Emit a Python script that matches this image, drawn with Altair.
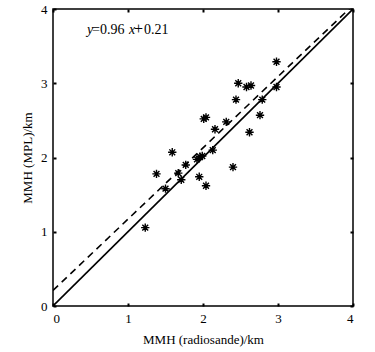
import altair as alt
import pandas as pd

# Data
x_vals = [1.23, 1.38, 1.50, 1.59, 1.67, 1.71, 1.77, 1.92, 1.95, 1.99, 1.96, 2.04,
          2.01, 2.04, 2.13, 2.16, 2.31, 2.40, 2.44, 2.47, 2.58, 2.64, 2.62, 2.76,
          2.79, 2.98, 2.98]
y_vals = [1.055, 1.78, 1.58, 2.07, 1.79, 1.70, 1.90, 1.975, 1.74, 2.02, 2.01, 1.62,
          2.52, 2.54, 2.10, 2.38, 2.48, 1.87, 2.78, 3.00, 2.95, 2.97, 2.34, 2.57,
          2.78, 3.29, 2.95]
tick_values = [0, 1, 2, 3, 4]
line_x = [0, 4]
fit_slope = 0.96
fit_intercept = 0.21

FONT = "Liberation Serif"
W, H = 300, 297

pts = pd.DataFrame({"x": x_vals, "y": y_vals})
ident = pd.DataFrame({"x": line_x, "y": line_x})
fit = pd.DataFrame({"x": line_x, "y": [fit_slope * v + fit_intercept for v in line_x]})

xs = alt.Scale(domain=[0, 4], nice=False, zero=False)
ys = alt.Scale(domain=[0, 4], nice=False, zero=False)

axis_common = dict(values=tick_values, domain=False, grid=False, tickColor="black",
                   tickSize=3, tickWidth=2, offset=-3, labelFont=FONT, labelFontSize=13,
                   labelColor="black", titleFont=FONT, titleFontSize=13,
                   titleColor="black", titleFontWeight="normal", format="d")

xaxis = alt.Axis(title="MMH (radiosande)/km", labelPadding=6, titlePadding=8, **axis_common)
yaxis = alt.Axis(title="MMH (MPL)/km", labelPadding=6, titlePadding=6, **axis_common)

star = "M-1,0L1,0M0,-1L0,1M-0.7,-0.7L0.7,0.7M-0.7,0.7L0.7,-0.7"

points = alt.Chart(pts).mark_point(shape=star, filled=False, color="black",
                                   strokeWidth=1.4, size=70, opacity=1).encode(
    x=alt.X("x:Q", scale=xs, axis=xaxis),
    y=alt.Y("y:Q", scale=ys, axis=yaxis),
)

solid = alt.Chart(ident).mark_line(color="black", strokeWidth=1.6, clip=True).encode(
    x=alt.X("x:Q", scale=xs, axis=None), y=alt.Y("y:Q", scale=ys, axis=None))

dashed = alt.Chart(fit).mark_line(color="black", strokeWidth=1.6, strokeDash=[7, 5],
                                  clip=True).encode(
    x=alt.X("x:Q", scale=xs, axis=None), y=alt.Y("y:Q", scale=ys, axis=None))

# mirrored ticks on top and right
mirror_x = alt.Axis(orient="top", values=tick_values, labels=False, title=None,
                    domain=False, grid=False, tickColor="black", tickSize=3,
                    tickWidth=2, offset=-3)
mirror_y = alt.Axis(orient="right", values=tick_values, labels=False, title=None,
                    domain=False, grid=False, tickColor="black", tickSize=3,
                    tickWidth=2, offset=-3)
mirror = alt.Chart(ident).mark_point(opacity=0).encode(
    x=alt.X("x:Q", scale=xs, axis=mirror_x),
    y=alt.Y("y:Q", scale=ys, axis=mirror_y))

# equation annotation
segs = [("y", 34, "italic", 14), ("=0.96", 39, "normal", 14), ("x", 76, "italic", 14),
        ("+", 81, "normal", 16), ("0.21", 91, "normal", 14)]
eq_layers = []
for t, px, style, fs in segs:
    eq_layers.append(
        alt.Chart(pd.DataFrame({"t": [t]})).mark_text(
            font=FONT, fontSize=fs, fontStyle=style, align="left",
            baseline="alphabetic", color="black").encode(
            text="t:N", x=alt.value(px), y=alt.value(25))
    )

chart = alt.layer(points, mirror, solid, dashed, *eq_layers).resolve_axis(
    x="independent", y="independent"
).properties(
    width=W, height=H, autosize=alt.AutoSizeParams(type="none"),
    padding={"left": 53, "top": 9, "right": 22, "bottom": 46},
    background="white",
).configure_view(stroke="black", strokeWidth=1.5)

chart.save("out.html", embed_options={"renderer": "svg", "actions": False})
